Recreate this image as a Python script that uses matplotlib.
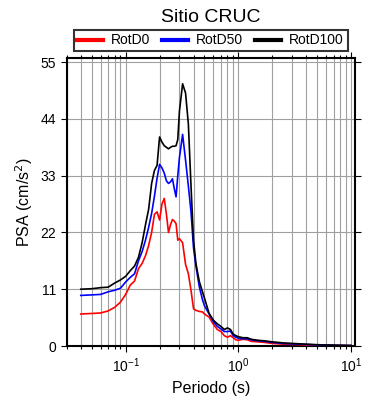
import matplotlib
matplotlib.use("Agg")
import matplotlib.pyplot as plt
from matplotlib.ticker import LogLocator, FixedLocator, NullFormatter, NullLocator

periods = [0.04, 0.05, 0.06, 0.07, 0.08, 0.09, 0.10, 0.11, 0.12, 0.13, 0.14, 0.15,
           0.16, 0.17, 0.18, 0.19, 0.20, 0.21, 0.22, 0.23, 0.24, 0.25, 0.26, 0.27,
           0.28, 0.29, 0.30, 0.32, 0.34, 0.36, 0.38, 0.40, 0.42, 0.45, 0.48, 0.50,
           0.55, 0.60, 0.65, 0.70, 0.75, 0.80, 0.85, 0.90, 0.95, 1.0, 1.1, 1.2, 1.3,
           1.5, 1.7, 2.0, 2.5, 3.0, 4.0, 5.0, 6.0, 7.5, 10.0]

rotd100 = [11.0, 11.1, 11.3, 11.4, 12.2, 12.8, 13.5, 14.6, 15.5, 17.2, 20.0, 23.5,
           26.5, 31.5, 34.0, 35.0, 40.5, 39.5, 38.8, 38.5, 38.2, 38.5, 38.7, 38.7,
           38.8, 40.0, 45.5, 50.8, 49.0, 43.0, 31.0, 20.5, 16.0, 12.5, 10.5, 9.3,
           6.3, 5.0, 4.3, 3.8, 3.2, 3.5, 3.2, 2.3, 2.0, 1.8, 1.6, 1.6, 1.3,
           1.1, 1.0, 0.8, 0.6, 0.5, 0.35, 0.25, 0.2, 0.15, 0.1]

rotd50 = [9.8, 9.9, 10.0, 10.5, 10.8, 11.2, 12.4, 13.3, 14.0, 16.5, 18.3, 20.5,
          23.0, 25.7, 29.0, 32.5, 35.2, 34.5, 33.5, 32.0, 31.5, 31.8, 32.4, 30.5,
          28.9, 33.0, 36.5, 41.0, 36.0, 31.0, 26.0, 19.0, 15.5, 11.5, 9.0, 7.8,
          6.2, 4.7, 3.8, 3.3, 2.8, 2.8, 2.9, 2.0, 1.7, 1.5, 1.4, 1.4, 1.2,
          1.0, 0.9, 0.7, 0.5, 0.4, 0.3, 0.2, 0.17, 0.12, 0.08]

rotd0 = [6.2, 6.3, 6.4, 6.8, 7.5, 8.5, 10.0, 11.8, 12.6, 15.0, 16.0, 17.5,
         19.5, 22.0, 25.5, 26.0, 24.4, 27.5, 28.6, 25.5, 22.0, 23.5, 24.5, 24.2,
         23.7, 20.5, 20.8, 20.0, 15.8, 14.0, 10.8, 7.2, 6.9, 6.7, 6.6, 6.2,
         5.6, 4.2, 3.2, 2.8, 2.0, 1.7, 2.0, 1.6, 1.2, 1.1, 1.3, 1.2, 0.9,
         0.8, 0.7, 0.5, 0.35, 0.3, 0.2, 0.15, 0.12, 0.1, 0.06]

series_labels = ["RotD0", "RotD50", "RotD100"]
series_colors = ["#ff0000", "#0000ff", "#000000"]
yticks = [0, 11, 22, 33, 44, 55]

plt.rcParams['font.family'] = ['Liberation Sans', 'DejaVu Sans']

fig = plt.figure(figsize=(3.9, 4.0), dpi=100)
ax = fig.add_axes([0.171, 0.135, 0.739, 0.72])

for vals, lab, col in zip([rotd0, rotd50, rotd100], series_labels, series_colors):
    ax.plot(periods, vals, color=col, lw=1.2, label=lab, zorder=3)

ax.set_xscale('log')
ax.set_xlim(0.03, 10.8)
ax.set_ylim(0, 55.8)
ax.set_yticks(yticks)
ax.yaxis.set_minor_locator(NullLocator())
ax.xaxis.set_major_locator(LogLocator(base=10, numticks=10))
ax.xaxis.set_minor_locator(LogLocator(base=10, subs=range(2, 10), numticks=20))
ax.xaxis.set_minor_formatter(NullFormatter())

ax.grid(True, which='both', axis='x', color='#a0a0a0', lw=0.8, zorder=0)
ax.grid(True, which='major', axis='y', color='#a0a0a0', lw=0.8, zorder=0)

ax.tick_params(axis='both', which='both', direction='out', top=True, right=True,
               labelsize=10, width=0.8)
ax.tick_params(axis='both', which='major', length=4)
ax.tick_params(axis='x', which='minor', length=2.5)
for s in ax.spines.values():
    s.set_linewidth(1.5)

ax.set_xlabel("Periodo (s)", fontsize=11.5, labelpad=4)
ax.set_ylabel("PSA (cm/s$^2$)", fontsize=11.5, labelpad=4)
ax.set_title("Sitio CRUC", fontsize=14, pad=26)

leg = ax.legend(loc='center', bbox_to_anchor=(0.5, 0.899), bbox_transform=fig.transFigure,
                ncol=3, fontsize=10,
                frameon=True, fancybox=False, edgecolor='black', handlelength=1.85,
                columnspacing=0.85, handletextpad=0.6, borderpad=0.25,
                borderaxespad=0.0)
leg.set_bbox_to_anchor((0.54, 0.899), transform=fig.transFigure)
leg.get_frame().set_linewidth(1.5)
for line in leg.get_lines():
    line.set_linewidth(3)

fig.savefig("out.png", dpi=100)
